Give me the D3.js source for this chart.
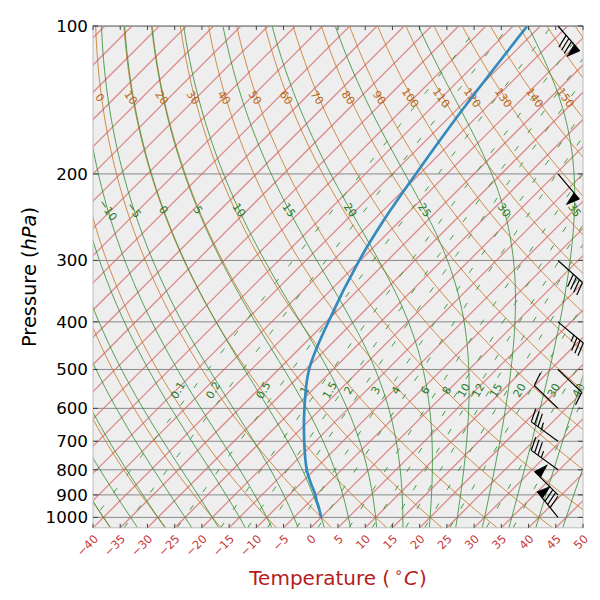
<!DOCTYPE html>
<html><head><meta charset="utf-8">
<script src="https://cdn.jsdelivr.net/npm/d3@7"></script>
<style>body{margin:0;background:#fff} text{font-family:"DejaVu Sans",sans-serif}</style>
</head><body><svg id="c" width="600" height="600"></svg>
<script>
// ---- data ----
const soundingPressure = [1000,950,925,900,850,800,700,600,500,400,300,250,200,150,100];
const soundingTemp     = [0,-2.5,-3.9,-5.2,-8.3,-11.4,-17.1,-23.1,-29.4,-34.6,-40.2,-43.0,-45.7,-48.8,-52.4];
const windPressure  = [100,200,300,400,500,600,700,800,900,1000];
const windSpeed     = [80,50,40,35,10,10,35,35,50,80];
const windDirection = [139,140,132,130,134,314,306,306,315,321];
const pressureTicks = [100,200,300,400,500,600,700,800,900,1000];
const tempTicks = [-40,-35,-30,-25,-20,-15,-10,-5,0,5,10,15,20,25,30,35,40,45,50];
const isotherms = [-130,-125,-120,-115,-110,-105,-100,-95,-90,-85,-80,-75,-70,-65,-60,-55,-50,-45,-40,-35,-30,-25,-20,-15,-10,-5,0,5,10,15,20,25,30,35,40,45,50];
const dryAdiabats = [-40,-30,-20,-10,0,10,20,30,40,50,60,70,80,90,100,110,120,130,140,150,160,170,180];
const moistAdiabats = [-45,-40,-35,-30,-25,-20,-15,-10,-5,0,5,10,15,20,25,30,35,40,45];
const mixingRatios = [0.1,0.2,0.5,1,1.5,2,3,4,6,8,10,12,15,20,30,40];

// ---- geometry ----
const X0=93, X1=583, Y0=26, Y1=527.8;
const xs = d3.scaleLinear().domain([-40,50]).range([X0,X1]);
const ys = d3.scaleLog().domain([1050,100]).range([Y1,Y0]);
const skx = (T,p) => xs(T) + (Y1 - ys(p));
const pGrid = d3.range(0,91).map(i => 1050*Math.pow(100/1050, i/90));
const line = d3.line().x(d=>d[0]).y(d=>d[1]);

const svg = d3.select('#c');
svg.append('rect').attr('x',0).attr('y',0).attr('width',600).attr('height',600).attr('fill','#fff');
svg.append('defs').append('clipPath').attr('id','clip').append('rect')
  .attr('x',X0).attr('y',Y0).attr('width',X1-X0).attr('height',Y1-Y0);
svg.append('rect').attr('x',X0).attr('y',Y0).attr('width',X1-X0).attr('height',Y1-Y0).attr('fill','#eeeeee');
const g = svg.append('g').attr('clip-path','url(#clip)');

// isobars
g.selectAll('.isobar').data(pressureTicks).join('line')
  .attr('x1',X0).attr('x2',X1).attr('y1',d=>ys(d)).attr('y2',d=>ys(d))
  .attr('stroke','#8a8a8a').attr('stroke-width',1);

// isotherms
g.selectAll('.iso').data(isotherms).join('path')
  .attr('d',T=>line([[skx(T,1050),ys(1050)],[skx(T,100),ys(100)]]))
  .attr('stroke','#d66a6a').attr('stroke-opacity',0.75).attr('stroke-width',1.3).attr('fill','none');

// dry adiabats
const dryT = (th,p) => (th+273.15)*Math.pow(p/1000,0.2857)-273.15;
g.selectAll('.dry').data(dryAdiabats).join('path')
  .attr('d',th=>line(pGrid.map(p=>[skx(dryT(th,p),p),ys(p)])))
  .attr('stroke','#c8721e').attr('stroke-width',0.8).attr('fill','none');

// moist adiabats
const es = Tc => 6.112*Math.exp(17.67*Tc/(Tc+243.5));
function dTdp(TK,p){
  const e=es(TK-273.15), rs=0.622*e/(p-e);
  const num=287.04*TK+2.501e6*rs;
  const den=1005.7+(2.501e6*2.501e6*rs*0.622)/(287.04*TK*TK);
  return num/den/p;
}
function integ(TK,p0,p1){
  const n=Math.max(1,Math.ceil(Math.abs(p1-p0)/4)), h=(p1-p0)/n;
  let T=TK,p=p0;
  for(let i=0;i<n;i++){
    const k1=dTdp(T,p),k2=dTdp(T+h*k1/2,p+h/2),k3=dTdp(T+h*k2/2,p+h/2),k4=dTdp(T+h*k3,p+h);
    T+=h*(k1+2*k2+2*k3+k4)/6; p+=h;
  }
  return T;
}
function moistProfile(tw){
  let T=integ(tw+273.15,1000,pGrid[0]);
  const pts=[[pGrid[0],T-273.15]];
  for(let i=1;i<pGrid.length;i++){T=integ(T,pGrid[i-1],pGrid[i]);pts.push([pGrid[i],T-273.15]);}
  return pts;
}
const moistData = moistAdiabats.map(tw=>({tw,pts:moistProfile(tw)}));
g.selectAll('.moist').data(moistData).join('path')
  .attr('d',d=>line(d.pts.map(([p,T])=>[skx(T,p),ys(p)])))
  .attr('stroke','#2f8a2f').attr('stroke-width',0.8).attr('fill','none');

// mixing ratio
function tdW(w,p){const ww=w/1000,e=ww*p/(0.622+ww),l=Math.log(e/6.112);return 243.5*l/(17.67-l);}
g.selectAll('.mix').data(mixingRatios).join('path')
  .attr('d',w=>line(pGrid.map(p=>[skx(tdW(w,p),p),ys(p)])))
  .attr('stroke','#3c9a3c').attr('stroke-width',1).attr('stroke-dasharray','6,16').attr('fill','none');

// labels
const lab = svg.append('g');
const inPlot = x => x>X0+4 && x<X1-4;
dryAdiabats.forEach(th=>{
  const p=140, xx=skx(dryT(th,p),p)-2, yy=ys(p);
  if(!inPlot(xx)) return;
  lab.append('text').attr('transform',`translate(${xx},${yy}) rotate(55)`)
    .attr('text-anchor','middle').attr('dominant-baseline','central')
    .attr('font-size',11).attr('fill','#b8661a').text(th);
});
moistData.forEach(d=>{
  const p=237; const T=d.pts.reduce((a,b)=>Math.abs(b[0]-p)<Math.abs(a[0]-p)?b:a)[1];
  const xx=skx(T,p), yy=ys(p);
  if(!inPlot(xx)) return;
  lab.append('text').attr('transform',`translate(${xx},${yy}) rotate(55)`)
    .attr('text-anchor','middle').attr('dominant-baseline','central')
    .attr('font-size',11).attr('fill','#2a7a2a').text(d.tw<0?'\u2212'+(-d.tw):d.tw);
});
mixingRatios.forEach(w=>{
  const xx=skx(tdW(w,600),600), yy=ys(600)-18;
  if(!inPlot(xx)) return;
  lab.append('text').attr('transform',`translate(${xx},${yy}) rotate(-60)`)
    .attr('text-anchor','middle').attr('dominant-baseline','central')
    .attr('font-size',11).attr('fill','#2a7a2a').text(w);
});

// sounding
const snd = soundingPressure.map((p,i)=>[skx(soundingTemp[i],p),ys(p)]);
svg.append('path').attr('clip-path','url(#clip)').attr('d',d3.line().curve(d3.curveCatmullRom)(snd))
  .attr('stroke','#348ABD').attr('stroke-width',2.7).attr('fill','none');

// frame
svg.append('rect').attr('x',X0).attr('y',Y0).attr('width',X1-X0).attr('height',Y1-Y0)
  .attr('fill','none').attr('stroke','#bcbcbc').attr('stroke-width',1);
svg.append('line').attr('x1',X0).attr('x2',X1).attr('y1',Y0).attr('y2',Y0).attr('stroke','#777');

// ticks
const ax = svg.append('g');
tempTicks.forEach(t=>{
  const xx=xs(t);
  ax.append('line').attr('x1',xx).attr('x2',xx).attr('y1',Y1).attr('y2',Y1-4).attr('stroke','#444');
  ax.append('line').attr('x1',xx).attr('x2',xx).attr('y1',Y0).attr('y2',Y0+4).attr('stroke','#444');
  ax.append('text').attr('transform',`translate(${xx+3},${Y1+9}) rotate(-45)`)
    .attr('text-anchor','end').attr('dominant-baseline','central')
    .attr('font-size',11.5).attr('fill','#c83737').text(t<0?'\u2212'+(-t):t);
});
pressureTicks.forEach(p=>{
  const yy=ys(p);
  ax.append('line').attr('x1',X0).attr('x2',X0+5).attr('y1',yy).attr('y2',yy).attr('stroke','#444');
  ax.append('line').attr('x1',X1).attr('x2',X1-5).attr('y1',yy).attr('y2',yy).attr('stroke','#444');
  ax.append('text').attr('x',X0-5).attr('y',yy).attr('text-anchor','end').attr('dominant-baseline','central')
    .attr('font-size',16.7).attr('fill','#000').text(p);
});

// axis labels
const yl = svg.append('text').attr('transform','translate(36,277) rotate(-90)')
  .attr('text-anchor','middle').attr('font-size',19.4).attr('fill','#000');
yl.append('tspan').text('Pressure (');
yl.append('tspan').attr('font-style','italic').text('hPa');
yl.append('tspan').text(')');
const xl = svg.append('text').attr('x',338).attr('y',585)
  .attr('text-anchor','middle').attr('font-size',20).attr('fill','#b51c1c');
xl.append('tspan').text('Temperature (');
xl.append('tspan').attr('font-size',14).attr('dx',4).attr('dy',-8).text('\u2218');
xl.append('tspan').attr('font-style','italic').attr('dx',1).attr('dy',8).text('C');
xl.append('tspan').attr('dx',1).text(')');

// wind barbs
const bg = svg.append('g');
function barb(px,py,spd,dir){
  const L=33,h=0.4*L,w=0.25*L,sp=0.125*L;
  const r=dir*Math.PI/180, s=[Math.sin(r),-Math.cos(r)], n=[-s[1],s[0]];
  const P=(a,b)=>[px+s[0]*a+n[0]*b, py+s[1]*a+n[1]*b];
  bg.append('path').attr('d',line([P(0,0),P(L,0)])).attr('stroke','#000').attr('stroke-width',1.2).attr('fill','none');
  let nf=Math.floor(spd/50), nb=Math.floor((spd%50)/10), half=(spd%10)>=5;
  let off=L;
  for(let i=0;i<nf;i++){
    if(off!==L) off+=sp/2;
    bg.append('path').attr('d',line([P(off,0),P(off-w/2,h),P(off-w,0)])+'Z').attr('fill','#000').attr('stroke','#000').attr('stroke-width',0.8);
    off-=w+sp;
  }
  for(let i=0;i<nb;i++){
    bg.append('path').attr('d',line([P(off,0),P(off+w/2,h)])).attr('stroke','#000').attr('stroke-width',1.2);
    off-=sp;
  }
  if(half){
    if(off===L) off-=1.5*sp;
    bg.append('path').attr('d',line([P(off,0),P(off+w/4,h/2)])).attr('stroke','#000').attr('stroke-width',1.2);
  }
}
windPressure.forEach((p,i)=>barb(558,ys(p),windSpeed[i],windDirection[i]));
</script></body></html>
